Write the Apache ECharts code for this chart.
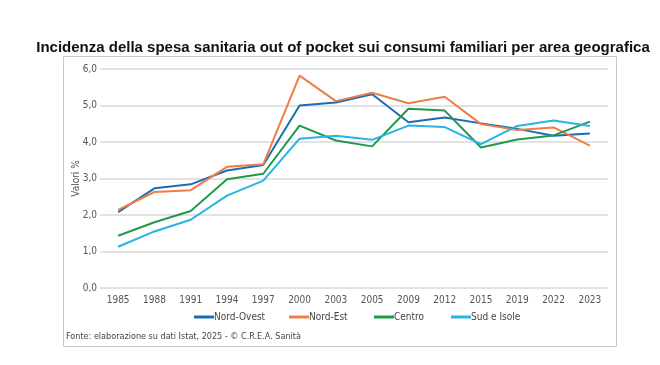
<!DOCTYPE html>
<html><head><meta charset="utf-8">
<script src="https://cdn.jsdelivr.net/npm/echarts@6/dist/echarts.min.js"></script>
<style>html,body{margin:0;padding:0;background:#fff}#c{width:660px;height:365px}</style>
</head><body><div id="c"></div>
<script>
const categories = ['1985','1988','1991','1994','1997','2000','2003','2005','2009','2012','2015','2019','2022','2023'];
const nordOvest = [2.08,2.73,2.84,3.22,3.37,5.00,5.08,5.31,4.54,4.67,4.51,4.36,4.17,4.23];
const nordEst   = [2.14,2.63,2.68,3.32,3.39,5.82,5.12,5.35,5.06,5.24,4.49,4.33,4.40,3.90];
const centro    = [1.43,1.80,2.11,2.98,3.13,4.45,4.04,3.88,4.91,4.86,3.85,4.07,4.18,4.56];
const sudIsole  = [1.13,1.55,1.87,2.53,2.94,4.09,4.17,4.06,4.45,4.41,3.94,4.44,4.59,4.44];
const seriesNames = ['Nord-Ovest','Nord-Est','Centro','Sud e Isole'];
const colors = ['#1b6db3','#ef7d47','#1f9a4b','#27b3e6'];
const legendLeft = [194, 289, 374, 451];

const narrow = "'DejaVu Sans Condensed','Liberation Sans Narrow','Arial Narrow',sans-serif";
const chart = echarts.init(document.getElementById('c'));
const data = [nordOvest, nordEst, centro, sudIsole];
chart.setOption({
  animation: false,
  title: {
    text: 'Incidenza della spesa sanitaria out of pocket sui consumi familiari per area geografica',
    left: 338, top: 35, textAlign: 'center',
    textStyle: {fontFamily: "'Liberation Sans',Arial,sans-serif", fontWeight: 'bold', fontSize: 15, color: '#111'}
  },
  graphic: [
    {type: 'rect', shape: {x: 63.5, y: 56.5, width: 553, height: 290}, style: {fill: 'none', stroke: '#c8c8c8', lineWidth: 1}, z: -1},
    {type: 'text', left: 66, top: 332, style: {text: 'Fonte: elaborazione su dati Istat, 2025 - © C.R.E.A. Sanità', font: "9px " + narrow, fill: '#444'}}
  ],
  color: colors,
  legend: seriesNames.map((n, i) => ({
    data: [n], left: legendLeft[i], top: 312, padding: 0,
    itemWidth: 20, itemHeight: 3, icon: 'rect',
    textStyle: {fontFamily: narrow, fontSize: 10, color: '#444', padding: [0,0,0,-5]}
  })),
  grid: {left: 100, right: 52, top: 69, bottom: 77},
  xAxis: {
    type: 'category', data: categories, boundaryGap: true,
    axisLine: {show: false}, axisTick: {show: false},
    axisLabel: {fontFamily: narrow, fontSize: 10, color: '#555', margin: 7, interval: 0}
  },
  yAxis: {
    type: 'value', min: 0, max: 6, interval: 1,
    name: 'Valori %', nameLocation: 'middle', nameGap: 19, nameRotate: 90, nameMoveOverlap: false,
    nameTextStyle: {fontFamily: narrow, fontSize: 10, color: '#555'},
    axisLabel: {fontFamily: narrow, fontSize: 10, color: '#555', margin: 3,
      formatter: v => v.toFixed(1).replace('.', ',')},
    splitLine: {lineStyle: {color: '#d9d9d9', width: 1.5}},
    axisLine: {show: false}, axisTick: {show: false}
  },
  series: seriesNames.map((n, i) => ({
    name: n, type: 'line', data: data[i], symbol: 'none',
    lineStyle: {width: 2, color: colors[i]}, itemStyle: {color: colors[i]}
  }))
});
</script></body></html>
